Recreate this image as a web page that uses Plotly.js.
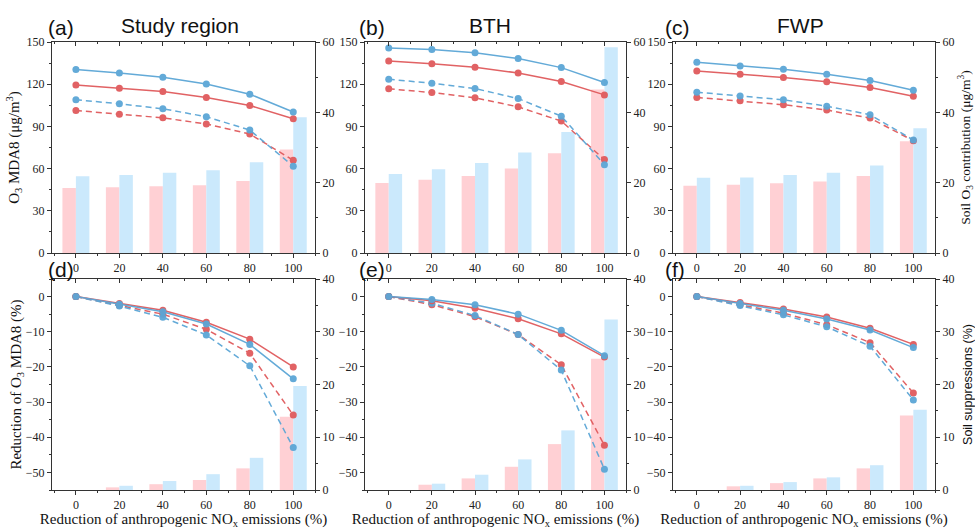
<!DOCTYPE html>
<html>
<head>
<meta charset="utf-8">
<script src="https://cdn.plot.ly/plotly-3.0.1.min.js"></script>
<style>html,body{margin:0;padding:0;background:#fff;}#chart{width:975px;height:529px;}</style>
</head>
<body>
<div id="chart"></div>
<script>
// ---------- DATA ----------
const reductions = [0, 20, 40, 60, 80, 100];
const xTickLabels = ['0', '20', '40', '60', '80', '100'];
const panelLetters = ['(a)', '(b)', '(c)', '(d)', '(e)', '(f)'];
const regionNames = ['Study region', 'BTH', 'FWP'];

// Top row: O3 MDA8 (μg/m3), lines
const a_redSolid  = [119.5, 117.2, 114.8, 110.6, 104.9, 95.4];
const a_blueSolid = [130.4, 128.0, 125.0, 120.2, 112.9, 100.2];
const a_redDash   = [101.3, 98.7, 96.1, 91.7, 84.6, 65.9];
const a_blueDash  = [108.9, 106.1, 102.5, 96.9, 87.4, 61.7];
// Top row: soil O3 contribution (μg/m3), bars
const a_redBar    = [18.5, 18.7, 19.0, 19.3, 20.5, 29.4];
const a_blueBar   = [21.8, 22.2, 22.8, 23.5, 25.8, 38.6];

const b_redSolid  = [136.5, 134.6, 132.0, 128.0, 121.9, 112.4];
const b_blueSolid = [145.7, 144.6, 142.4, 138.2, 131.8, 121.2];
const b_redDash   = [116.7, 114.1, 110.3, 103.9, 93.8, 66.4];
const b_blueDash  = [123.5, 120.7, 116.9, 109.8, 97.3, 62.8];
const b_redBar    = [19.9, 20.8, 21.9, 24.0, 28.4, 46.5];
const b_blueBar   = [22.5, 23.8, 25.6, 28.6, 34.4, 58.5];

const c_redSolid  = [129.4, 127.1, 124.7, 121.7, 117.6, 111.5];
const c_blueSolid = [135.6, 133.0, 130.6, 127.1, 122.6, 115.7];
const c_redDash   = [110.6, 108.2, 105.4, 101.6, 95.9, 79.8];
const c_blueDash  = [114.3, 111.7, 108.9, 104.4, 98.3, 80.3];
const c_redBar    = [19.1, 19.4, 19.8, 20.3, 21.9, 31.8];
const c_blueBar   = [21.4, 21.5, 22.2, 22.8, 24.9, 35.5];

// Bottom row: reduction of O3 MDA8 (%), lines
const d_redSolid  = [0, -2.0, -3.9, -7.3, -12.1, -20.0];
const d_blueSolid = [0, -2.2, -4.3, -7.8, -13.6, -23.4];
const d_redDash   = [0, -2.5, -5.0, -9.3, -16.1, -33.7];
const d_blueDash  = [0, -2.7, -5.9, -10.9, -19.7, -42.9];
// Bottom row: soil suppressions (%), bars
const d_redBar    = [0, 0.5, 1.1, 1.9, 4.1, 13.9];
const d_blueBar   = [0, 0.8, 1.7, 3.0, 6.1, 19.7];

const e_redSolid  = [0, -1.2, -3.3, -6.3, -10.6, -17.2];
const e_blueSolid = [0, -0.8, -2.3, -5.0, -9.6, -16.8];
const e_redDash   = [0, -2.3, -5.7, -10.8, -19.4, -42.3];
const e_blueDash  = [0, -1.9, -5.4, -10.8, -20.9, -49.1];
const e_redBar    = [0, 1.0, 2.2, 4.4, 8.7, 24.9];
const e_blueBar   = [0, 1.2, 2.9, 5.8, 11.3, 32.3];

const f_redSolid  = [0, -1.7, -3.5, -5.8, -9.0, -13.6];
const f_blueSolid = [0, -2.0, -3.9, -6.4, -9.5, -14.5];
const f_redDash   = [0, -2.3, -4.7, -8.0, -13.1, -27.4];
const f_blueDash  = [0, -2.5, -5.2, -8.6, -14.1, -29.4];
const f_redBar    = [0, 0.7, 1.3, 2.2, 4.1, 14.1];
const f_blueBar   = [0, 0.8, 1.5, 2.4, 4.7, 15.2];

const panels = [
  {rs: a_redSolid, bs: a_blueSolid, rd: a_redDash, bd: a_blueDash, rb: a_redBar, bb: a_blueBar},
  {rs: b_redSolid, bs: b_blueSolid, rd: b_redDash, bd: b_blueDash, rb: b_redBar, bb: b_blueBar},
  {rs: c_redSolid, bs: c_blueSolid, rd: c_redDash, bd: c_blueDash, rb: c_redBar, bb: c_blueBar},
  {rs: d_redSolid, bs: d_blueSolid, rd: d_redDash, bd: d_blueDash, rb: d_redBar, bb: d_blueBar},
  {rs: e_redSolid, bs: e_blueSolid, rd: e_redDash, bd: e_blueDash, rb: e_redBar, bb: e_blueBar},
  {rs: f_redSolid, bs: f_blueSolid, rd: f_redDash, bd: f_blueDash, rb: f_redBar, bb: f_blueBar}
];

// ---------- STYLE ----------
const W = 975, H = 529;
const RED = '#e05a5c', BLUE = '#5ba6d6';
const RED_BAR = '#ffd0d4', BLUE_BAR = '#cbe9fc';
const SERIF = '"Liberation Serif", "Times New Roman", serif';
const SANS = '"Liberation Sans", Arial, sans-serif';
const xPix = [[52, 315], [365, 626], [673, 935]];
const yPix = [[42, 253], [279, 490]];
const px = v => v / W, py = v => 1 - v / H;

const traces = [];
const layout = {
  width: W, height: H,
  margin: {l: 0, r: 0, t: 0, b: 0},
  paper_bgcolor: '#fff', plot_bgcolor: 'rgba(0,0,0,0)',
  showlegend: false,
  barmode: 'overlay',
  font: {family: SERIF, size: 12, color: '#222'},
  annotations: []
};

panels.forEach((p, i) => {
  const col = i % 3, row = Math.floor(i / 3);
  const xi = i + 1, yb = 2 * i + 1, yl = 2 * i + 2, xt = i + 7;
  const xd = [px(xPix[col][0]), px(xPix[col][1])];
  const yd = [py(yPix[row][1]), py(yPix[row][0])];
  const top = row === 0;

  // bars on primary axis (right side)
  traces.push({type: 'bar', x: reductions, y: p.rb, xaxis: 'x' + xi, yaxis: 'y' + yb,
    width: 6.2, offset: -6.2, marker: {color: RED_BAR, line: {width: 0}}, hoverinfo: 'skip'});
  traces.push({type: 'bar', x: reductions, y: p.bb, xaxis: 'x' + xi, yaxis: 'y' + yb,
    width: 6.2, offset: 0, marker: {color: BLUE_BAR, line: {width: 0}}, hoverinfo: 'skip'});
  // lines on overlaying axis (left side)
  const lines = [[p.rd, RED, '6px,4px'], [p.bd, BLUE, '6px,4px'], [p.rs, RED, 'solid'], [p.bs, BLUE, 'solid']];
  lines.forEach(([vals, c, dash]) => {
    traces.push({type: 'scatter', mode: 'lines+markers', x: reductions, y: vals,
      xaxis: 'x' + xi, yaxis: 'y' + yl,
      line: {color: c, width: 1.5, dash: dash}, marker: {color: c, size: 7}, opacity: 0.95});
  });
  // invisible trace for top axis
  traces.push({type: 'scatter', mode: 'markers', x: [0], y: [0], xaxis: 'x' + xt, yaxis: 'y' + yb,
    marker: {opacity: 0}, hoverinfo: 'skip'});

  const xName = xi === 1 ? 'xaxis' : 'xaxis' + xi;
  layout[xName] = {
    domain: xd, anchor: 'y' + yb, range: [-11, 110],
    tickvals: reductions, ticktext: xTickLabels,
    ticks: 'outside', ticklen: 4, tickcolor: '#333', showline: true, linecolor: '#333', linewidth: 1,
    minor: {dtick: 10, tick0: 0, ticks: 'outside', ticklen: 2, tickcolor: '#333'},
    showgrid: false, zeroline: false, fixedrange: true,
    tickfont: {family: SERIF, size: 12, color: '#222'}
  };
  if (!top) {
    layout[xName].title = {text: 'Reduction of anthropogenic NO<sub>x</sub> emissions (%)',
      font: {family: SERIF, size: 15, color: '#111'}, standoff: 9};
  }
  layout['xaxis' + xt] = {
    overlaying: 'x' + xi, side: 'top', anchor: 'y' + yb, range: [-11, 110],
    tickvals: reductions, showticklabels: false, ticks: 'inside', ticklen: 4, tickcolor: '#333',
    minor: {dtick: 10, tick0: 0, ticks: 'inside', ticklen: 2, tickcolor: '#333'},
    showline: true, linecolor: '#333', linewidth: 1, showgrid: false, zeroline: false, fixedrange: true
  };
  const yName = yb === 1 ? 'yaxis' : 'yaxis' + yb;
  layout[yName] = {
    domain: yd, anchor: 'x' + xi, side: 'right',
    range: [0, top ? 60 : 40], dtick: top ? 20 : 10, tick0: 0,
    ticks: 'outside', ticklen: 4, tickcolor: '#333', showline: true, linecolor: '#333', linewidth: 1,
    minor: {dtick: top ? 10 : 5, ticks: 'outside', ticklen: 2, tickcolor: '#333'},
    showgrid: false, zeroline: false, fixedrange: true,
    tickfont: {family: SERIF, size: 12, color: '#222'}
  };
  if (col === 2) {
    layout[yName].title = top ?
      {text: 'Soil O<sub>3</sub> contribution (μg/m<sup>3</sup>)', font: {family: SERIF, size: 13.5, color: '#111'}, standoff: 10} :
      {text: 'Soil suppressions (%)', font: {family: SANS, size: 12.5, color: '#111'}, standoff: 10};
  }
  layout['yaxis' + yl] = {
    overlaying: 'y' + yb, anchor: 'x' + xi, side: 'left',
    range: top ? [0, 150] : [-55, 5], dtick: top ? 30 : 10, tick0: 0,
    ticks: 'outside', ticklen: 4, tickcolor: '#333', showline: true, linecolor: '#333', linewidth: 1,
    minor: {dtick: top ? 15 : 5, ticks: 'outside', ticklen: 2, tickcolor: '#333'},
    showgrid: false, zeroline: false, fixedrange: true,
    tickfont: {family: SERIF, size: 12, color: '#222'}
  };
  if (col === 0) {
    layout['yaxis' + yl].title = top ?
      {text: 'O<sub>3</sub> MDA8 (μg/m<sup>3</sup>)', font: {family: SERIF, size: 15, color: '#111'}, standoff: 3} :
      {text: 'Reduction of O<sub>3</sub> MDA8 (%)', font: {family: SERIF, size: 15, color: '#111'}, standoff: 0};
  }

  // panel letter
  const letterX = [46, 357, 663][col];
  const letterY = top ? 28 : 269;
  layout.annotations.push({text: panelLetters[i], xref: 'paper', yref: 'paper',
    x: px(letterX), y: py(letterY), xanchor: 'left', yanchor: 'middle', showarrow: false,
    font: {family: SANS, size: 21, color: '#111'}});
  if (top) {
    const cx = [180, 490, 800][col];
    layout.annotations.push({text: regionNames[col], xref: 'paper', yref: 'paper',
      x: px(cx), y: py(25), xanchor: 'center', yanchor: 'middle', showarrow: false,
      font: {family: SANS, size: 21, color: '#111'}});
  }
});

Plotly.newPlot('chart', traces, layout, {displayModeBar: false, staticPlot: true});
</script>
</body>
</html>
